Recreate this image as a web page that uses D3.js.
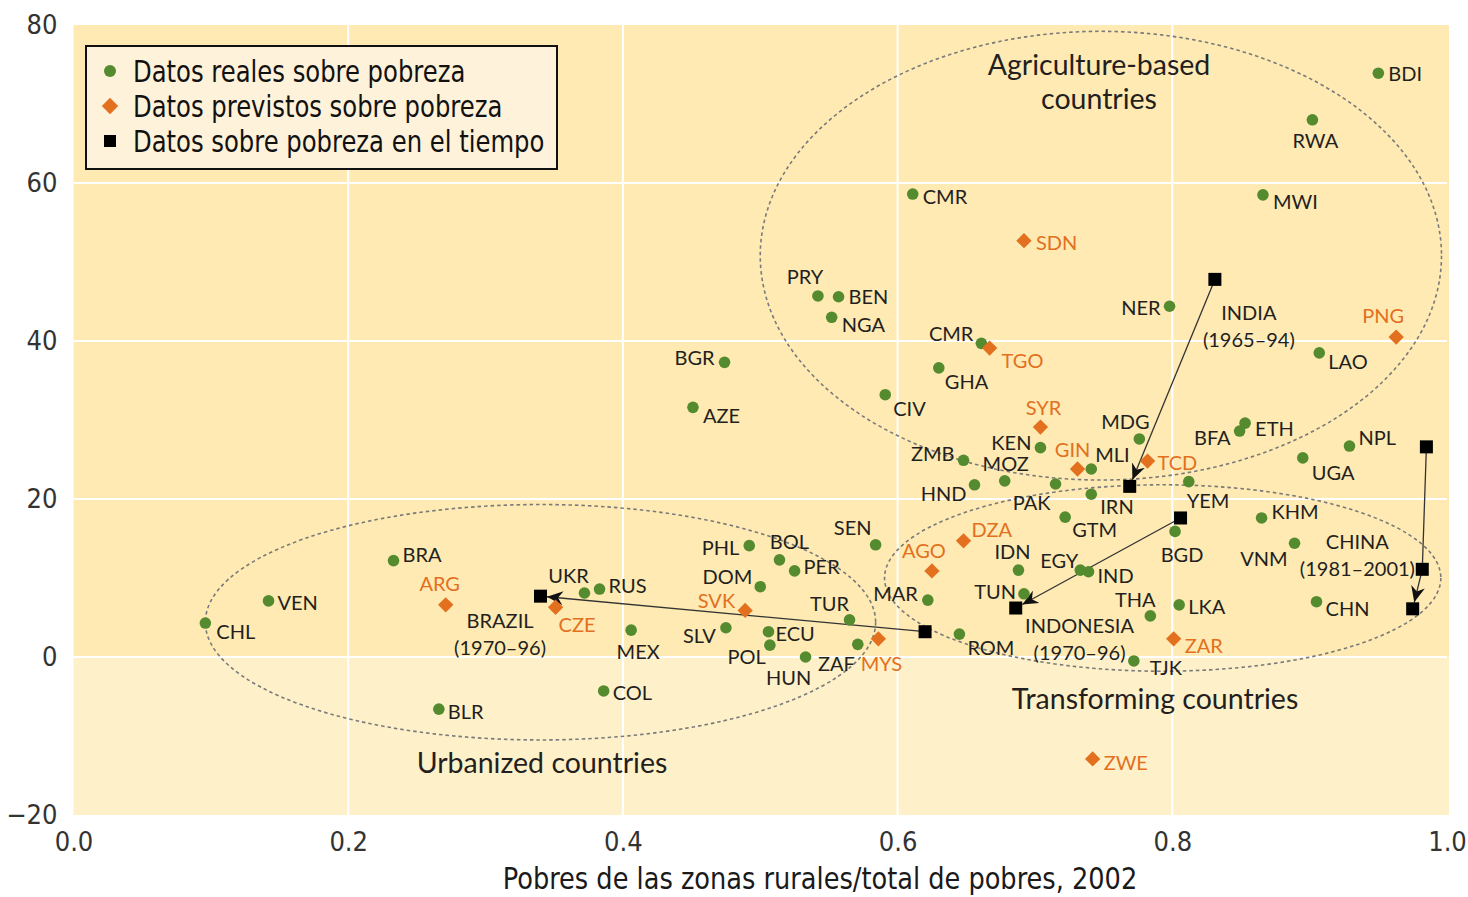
<!DOCTYPE html>
<html>
<head>
<meta charset="utf-8">
<script src="https://cdn.jsdelivr.net/npm/d3@7"></script>
<style>
  body { margin: 0; background: #fff; }
</style>
</head>
<body>
<svg id="chart" width="1468" height="897"></svg>
<script>
// ---- data ----
// actual poverty data (green dots)
const realCodes = ['BDI','RWA','MWI','CMR','NER','LAO','PRY','BEN','NGA','CMR','GHA','CIV','BGR','AZE',
  'KEN','MDG','MLI','BFA','ETH','NPL','UGA','ZMB','MOZ','HND','PAK','IRN','YEM','GTM','BGD','KHM','VNM',
  'CHN','LKA','THA','TJK','EGY','IND','IDN','TUN','ROM','MAR','SEN','PHL','BOL','PER','DOM','TUR','ECU',
  'POL','SLV','HUN','ZAF','MEX','COL','RUS','UKR','BRA','VEN','CHL','BLR'];
const realX = [0.950,0.902,0.866,0.611,0.798,0.907,0.542,0.557,0.552,0.661,0.630,0.591,0.474,0.451,
  0.704,0.776,0.741,0.849,0.853,0.929,0.895,0.648,0.678,0.656,0.715,0.741,0.812,0.722,0.802,0.865,0.889,
  0.905,0.805,0.784,0.772,0.733,0.739,0.688,0.692,0.645,0.622,0.584,0.492,0.514,0.525,0.500,0.565,0.506,
  0.507,0.475,0.533,0.571,0.406,0.386,0.383,0.372,0.233,0.142,0.096,0.266];
const realY = [73.9,68.0,58.5,58.6,44.4,38.5,45.7,45.6,43.0,39.7,36.6,33.2,37.3,31.6,
  26.5,27.6,23.8,28.6,29.6,26.7,25.2,24.9,22.3,21.8,21.9,20.6,22.2,17.7,15.9,17.6,14.4,
  7.0,6.6,5.2,-0.5,11.0,10.8,11.0,8.0,2.9,7.2,14.2,14.1,12.3,10.9,8.9,4.7,3.2,
  1.5,3.7,0.0,1.6,3.4,-4.3,8.6,8.1,12.2,7.1,4.3,-6.6];

// predicted poverty data (orange diamonds)
const predCodes = ['SDN','PNG','TGO','SYR','GIN','TCD','DZA','AGO','SVK','MYS','ZAR','ARG','CZE','ZWE'];
const predX = [0.692,0.963,0.667,0.704,0.731,0.782,0.648,0.625,0.489,0.586,0.801,0.271,0.351,0.742];
const predY = [52.7,40.5,39.1,29.1,23.8,24.8,14.7,10.9,5.9,2.3,2.3,6.6,6.3,-12.9];

// poverty over time (black squares, arrows)
const timeNames = ['INDIA', 'INDONESIA', 'CHINA', 'BRAZIL'];
const timePeriods = ['(1965–94)', '(1970–96)', '(1981–2001)', '(1970–96)'];
const timeX = [[0.831, 0.769], [0.806, 0.686], [0.985, 0.982, 0.975], [0.620, 0.340]];
const timeY = [[47.8, 21.6], [17.6, 6.2], [26.6, 11.1, 6.1], [3.2, 7.7]];

// country groups
const groupNames = [['Agriculture-based', 'countries'], ['Urbanized countries'], ['Transforming countries']];
const groupCx = [0.748, 0.340, 0.793];
const groupCy = [50.8, 4.4, 10.0];
const groupRx = [0.248, 0.244, 0.2025];
const groupRy = [28.4, 14.9, 11.8];

const xTicks = [0, 0.2, 0.4, 0.6, 0.8, 1.0];
const yTicks = [-20, 0, 20, 40, 60, 80];
const legendLabels = ['Datos reales sobre pobreza', 'Datos previstos sobre pobreza', 'Datos sobre pobreza en el tiempo'];
const xTitle = 'Pobres de las zonas rurales/total de pobres, 2002';

// ---- label placement (pixel offsets from the marker) ----
const realLabelAt = [[10,0,'start'],[3,20,'middle'],[10,6,'start'],[10,2,'start'],[-9,1,'end'],[9,8,'start'],
  [-13,-20,'middle'],[10,-1,'start'],[10,7,'start'],[-8,-10,'end'],[6,13,'start'],[8,13,'start'],[-10,-5,'end'],[10,8,'start'],
  [-9,-6,'end'],[-14,-18,'middle'],[4,-15,'start'],[-9,6,'end'],[10,5,'start'],[9,-9,'start'],[9,14,'start'],
  [-9,-7,'end'],[1,-18,'middle'],[-8,8,'end'],[-5,18,'end'],[9,12,'start'],[-2,18,'start'],[7,12,'start'],[7,23,'middle'],
  [10,-7,'start'],[-7,15,'end'],[9,6,'start'],[9,1,'start'],[-15,-17,'middle'],[16,6,'start'],[-2,-10,'end'],[9,3,'start'],
  [-6,-19,'middle'],[-8,-3,'end'],[8,13,'start'],[-10,-7,'end'],[-23,-18,'middle'],[-10,1,'end'],[10,-19,'middle'],
  [9,-5,'start'],[-8,-11,'end'],[-20,-17,'middle'],[7,1,'start'],[-4,11,'end'],[-10,7,'end'],[-17,20,'middle'],
  [-3,19,'end'],[7,21,'middle'],[9,1,'start'],[9,-4,'start'],[-16,-18,'middle'],[9,-7,'start'],[9,1,'start'],[11,8,'start'],[9,2,'start']];
const predLabelAt = [[12,1,'start'],[-13,-22,'middle'],[12,12,'start'],[3,-20,'middle'],[-5,-20,'middle'],[10,1,'start'],
  [8,-12,'start'],[-8,-21,'middle'],[-10,-10,'end'],[3,24,'middle'],[11,6,'start'],[-6,-22,'middle'],[3,17,'start'],[11,3,'start']];
const timeLabelAt = [[34, 33], [-101, 107], [-69, 94], [-425, -12]]; // from first point of each series (px)

// ---- drawing ----
const svg = d3.select('#chart');
const x = d3.scaleLinear().domain([0, 1]).range([73.5, 1447]);
const y = d3.scaleLinear().domain([-20, 80]).range([815, 25]);

const condFont = '"Liberation Sans Narrow", "DejaVu Sans Condensed", "Arial Narrow", sans-serif';
const labelFont = 'Lato, "Open Sans", "Noto Sans", sans-serif';
const green = '#558b2f', orange = '#e2701f', ink = '#231f20';

// squeeze a text horizontally, the originals use a condensed face
function squeeze(sel, k) {
  sel.each(function () {
    const w = this.getComputedTextLength();
    d3.select(this).attr('textLength', w * k).attr('lengthAdjust', 'spacingAndGlyphs');
  });
}

// background: darker above 0, lighter below
svg.append('rect').attr('x', x(0)).attr('y', y(80)).attr('width', x(1) - x(0) + 2)
  .attr('height', y(0) - y(80)).attr('fill', '#feeab2');
svg.append('rect').attr('x', x(0)).attr('y', y(0)).attr('width', x(1) - x(0) + 2)
  .attr('height', y(-20) - y(0)).attr('fill', '#fef1c9');

// gridlines
const grid = svg.append('g').attr('stroke', '#fff').attr('stroke-width', 2);
grid.selectAll('.vx').data(xTicks.slice(1, -1)).enter().append('line')
  .attr('x1', d => x(d)).attr('x2', d => x(d)).attr('y1', y(80)).attr('y2', y(-20));
grid.selectAll('.hy').data(yTicks.slice(1, -1)).enter().append('line')
  .attr('x1', x(0)).attr('x2', x(1)).attr('y1', d => y(d)).attr('y2', d => y(d));

// axes (labels only)
const yAxis = svg.append('g').attr('transform', `translate(${x(0)},0)`)
  .call(d3.axisLeft(y).tickValues(yTicks).tickSize(0).tickPadding(16).tickFormat(d => d < 0 ? '−' + (-d) : d));
const xAxis = svg.append('g').attr('transform', `translate(0,${y(-20)})`)
  .call(d3.axisBottom(x).tickValues(xTicks).tickSize(0).tickPadding(17).tickFormat(d3.format('.1f')));
[yAxis, xAxis].forEach(a => {
  a.select('.domain').remove();
  a.selectAll('text').attr('font-family', condFont).attr('font-size', 27).attr('fill', '#333');
});
svg.append('text').attr('x', 820).attr('y', 889).attr('text-anchor', 'middle')
  .attr('font-family', condFont).attr('font-size', 30).attr('fill', '#1a1a1a').text(xTitle)
  .call(squeeze, 0.95);

// group ellipses
const groups = groupNames.map((n, i) => ({ n, cx: groupCx[i], cy: groupCy[i], rx: groupRx[i], ry: groupRy[i] }));
svg.append('g').selectAll('ellipse').data(groups).enter().append('ellipse')
  .attr('cx', d => x(d.cx)).attr('cy', d => y(d.cy))
  .attr('rx', d => x(d.rx) - x(0)).attr('ry', d => y(0) - y(d.ry))
  .attr('fill', 'none').attr('stroke', '#7a7a7a').attr('stroke-width', 1.6).attr('stroke-dasharray', '3.5,3');

const groupTextAt = [[1099, 64], [542, 762], [1155, 698]];
groups.forEach((g, i) => {
  const t = svg.append('text').attr('text-anchor', 'middle').attr('font-family', labelFont)
    .attr('font-size', 28.5).attr('fill', ink);
  g.n.forEach((line, j) => {
    t.append('tspan').attr('x', groupTextAt[i][0]).attr('y', groupTextAt[i][1] + 34 * j)
      .attr('dominant-baseline', 'central').text(line);
  });
});

// arrow marker
svg.append('defs').append('marker').attr('id', 'arrow')
  .attr('viewBox', '0 0 16 14').attr('refX', 16).attr('refY', 7)
  .attr('markerWidth', 16).attr('markerHeight', 14).attr('markerUnits', 'userSpaceOnUse')
  .attr('orient', 'auto')
  .append('path').attr('d', 'M0,0 L16,7 L0,14 L5,7 Z').attr('fill', '#111');

// time series lines
const series = timeNames.map((name, i) => ({
  name, period: timePeriods[i],
  pts: timeX[i].map((v, k) => [x(v), y(timeY[i][k])])
}));
series.forEach(s => {
  const pts = s.pts.map(p => p.slice());
  // stop the last segment at the square's edge so the arrowhead stays visible
  const a = pts[pts.length - 2], b = pts[pts.length - 1];
  const len = Math.hypot(b[0] - a[0], b[1] - a[1]);
  const cut = 6.5 / Math.max(Math.abs(b[0] - a[0]), Math.abs(b[1] - a[1])) * len;
  b[0] -= (b[0] - a[0]) / len * cut;
  b[1] -= (b[1] - a[1]) / len * cut;
  svg.append('path').attr('d', d3.line()(pts)).attr('fill', 'none')
    .attr('stroke', '#333').attr('stroke-width', 1.3).attr('marker-end', 'url(#arrow)');
});

// markers
const real = realCodes.map((c, i) => ({ c, x: realX[i], y: realY[i], at: realLabelAt[i] }));
const pred = predCodes.map((c, i) => ({ c, x: predX[i], y: predY[i], at: predLabelAt[i] }));

svg.append('g').selectAll('circle').data(real).enter().append('circle')
  .attr('cx', d => x(d.x)).attr('cy', d => y(d.y)).attr('r', 5.8).attr('fill', green);

const diamond = d3.symbol().type(d3.symbolDiamond2).size(150);
svg.append('g').selectAll('path').data(pred).enter().append('path')
  .attr('d', diamond).attr('transform', d => `translate(${x(d.x)},${y(d.y)})`).attr('fill', orange);

series.forEach(s => {
  svg.append('g').selectAll('rect').data(s.pts).enter().append('rect')
    .attr('x', p => p[0] - 6.5).attr('y', p => p[1] - 6.5).attr('width', 13).attr('height', 13).attr('fill', '#000');
});

// country labels
function addLabels(data, color) {
  svg.append('g').selectAll('text').data(data).enter().append('text')
    .attr('x', d => x(d.x) + d.at[0]).attr('y', d => y(d.y) + d.at[1])
    .attr('text-anchor', d => d.at[2]).attr('dominant-baseline', 'central')
    .attr('font-family', labelFont).attr('font-size', 20).attr('fill', color).text(d => d.c);
}
addLabels(real, ink);
addLabels(pred, orange);

series.forEach((s, i) => {
  const t = svg.append('text').attr('text-anchor', 'middle').attr('font-family', labelFont)
    .attr('font-size', 20).attr('fill', ink);
  const lx = s.pts[0][0] + timeLabelAt[i][0], ly = s.pts[0][1] + timeLabelAt[i][1];
  t.append('tspan').attr('x', lx).attr('y', ly).attr('dominant-baseline', 'central').text(s.name);
  t.append('tspan').attr('x', lx).attr('y', ly + 27).attr('dominant-baseline', 'central').text(s.period);
});

// legend
const lg = svg.append('g').attr('transform', 'translate(86,46)');
lg.append('rect').attr('width', 471).attr('height', 123).attr('fill', '#fef2da')
  .attr('stroke', '#111').attr('stroke-width', 2);
const rowY = [25, 60, 95];
lg.append('circle').attr('cx', 24).attr('cy', rowY[0]).attr('r', 6).attr('fill', green);
lg.append('path').attr('d', d3.symbol().type(d3.symbolDiamond2).size(170))
  .attr('transform', `translate(24,${rowY[1]})`).attr('fill', orange);
lg.append('rect').attr('x', 18).attr('y', rowY[2] - 6).attr('width', 12).attr('height', 12).attr('fill', '#000');
lg.selectAll('text').data(legendLabels).enter().append('text')
  .attr('x', 47).attr('y', (d, i) => rowY[i]).attr('dominant-baseline', 'central')
  .attr('font-family', condFont).attr('font-size', 30).attr('fill', '#111').text(d => d)
  .call(squeeze, 0.9);
</script>
</body>
</html>
